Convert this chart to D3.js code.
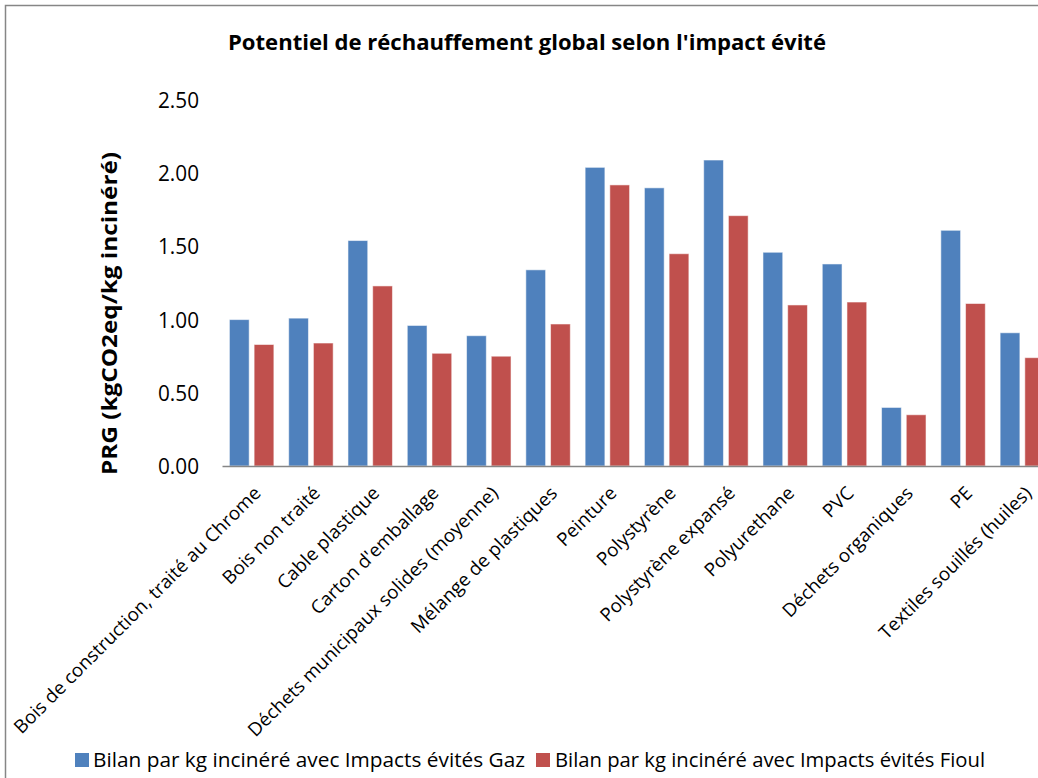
<!DOCTYPE html>
<html>
<head>
<meta charset="utf-8">
<script src="https://cdn.jsdelivr.net/npm/d3@7"></script>
<style>
  html, body { margin: 0; padding: 0; background: #fff; overflow: hidden; }
  svg { display: block; font-family: "Open Sans", sans-serif; }
</style>
</head>
<body>
<svg id="chart" width="1038" height="778"></svg>
<script>
const categories = [
  "Bois de construction, traité au Chrome",
  "Bois non traité",
  "Cable plastique",
  "Carton d'emballage",
  "Déchets municipaux solides (moyenne)",
  "Mélange de plastiques",
  "Peinture",
  "Polystyrène",
  "Polystyrène expansé",
  "Polyurethane",
  "PVC",
  "Déchets organiques",
  "PE",
  "Textiles souillés (huiles)"
];
const seriesNames = [
  "Bilan par kg incinéré avec Impacts évités Gaz",
  "Bilan par kg incinéré avec Impacts évités Fioul"
];
const gazValues   = [1.00, 1.01, 1.54, 0.96, 0.89, 1.34, 2.04, 1.90, 2.09, 1.46, 1.38, 0.40, 1.61, 0.91];
const fioulValues = [0.83, 0.84, 1.23, 0.77, 0.75, 0.97, 1.92, 1.45, 1.71, 1.10, 1.12, 0.35, 1.11, 0.74];
const yTicks = [0, 0.5, 1.0, 1.5, 2.0, 2.5];
const colors = ["#4F81BD", "#C0504D"];
const title = "Potentiel de réchauffement global selon l'impact évité";
const yTitle = "PRG (kgCO2eq/kg incinéré)";

const svg = d3.select("#chart");

// set text to an exact target length
function setLen(sel, target) {
  sel.attr("textLength", target.toFixed(1)).attr("lengthAdjust", "spacingAndGlyphs");
}

// chart border
svg.append("rect")
  .attr("x", 5.5).attr("y", 5.5)
  .attr("width", 1100).attr("height", 900)
  .attr("fill", "#fff")
  .attr("stroke", "#868686").attr("stroke-width", 1.5);

const plotLeft = 222, plotRight = 1052, plotTop = 100, plotBottom = 466;

const x0 = d3.scaleBand().domain(categories).range([plotLeft, plotRight]).padding(0);
const x1 = d3.scaleBand().domain(seriesNames).range([0, x0.bandwidth()])
  .paddingInner(0.2).paddingOuter(0.3);
const y = d3.scaleLinear().domain([0, 2.5]).range([plotBottom, plotTop]);

// title
const t = svg.append("text")
  .attr("x", 228).attr("y", 50)
  .attr("font-weight", "bold")
  .attr("font-size", 21)
  .attr("fill", "#000")
  .text(title);
setLen(t, 598);

// y axis
const yAxis = d3.axisLeft(y).tickValues(yTicks).tickFormat(d3.format(".2f")).tickSize(0).tickPadding(0);
const yg = svg.append("g").attr("transform", `translate(199,0)`).call(yAxis);
yg.select(".domain").remove();
yg.selectAll("text")
  .attr("font-size", 21)
  .attr("font-family", "Open Sans, sans-serif")
  .attr("fill", "#000")
  .attr("dy", "0.36em")
  .each(function() { setLen(d3.select(this), 41); });

// y title
const yt = svg.append("text")
  .attr("transform", `translate(117,475) rotate(-90)`)
  .attr("font-weight", "bold")
  .attr("font-size", 21)
  .attr("fill", "#000")
  .text(yTitle);
setLen(yt, 323);

// bars
const data = categories.map((c, i) => ({ cat: c, vals: [gazValues[i], fioulValues[i]] }));
const groups = svg.append("g").selectAll("g")
  .data(data).join("g")
  .attr("transform", d => `translate(${x0(d.cat)},0)`);
groups.selectAll("rect")
  .data(d => d.vals.map((v, k) => ({ s: seriesNames[k], v, k })))
  .join("rect")
  .attr("x", d => x1(d.s))
  .attr("y", d => y(d.v))
  .attr("width", x1.bandwidth())
  .attr("height", d => y(0) - y(d.v))
  .attr("fill", d => colors[d.k])
  .attr("stroke", "rgba(255,255,255,0.55)")
  .attr("stroke-width", 1);

// x axis baseline
const xAxis = d3.axisBottom(x0).tickSize(0).tickFormat("");
const xg = svg.append("g").attr("transform", `translate(0,${plotBottom})`).call(xAxis);
xg.select(".domain").attr("stroke", "#868686").attr("stroke-width", 1.5);

// x labels rotated
const labels = svg.append("g").selectAll("text")
  .data(categories).join("text")
  .attr("transform", d => `translate(${x0(d) + x0.bandwidth() / 2 + 5},489) rotate(-45)`)
  .attr("text-anchor", "end")
  .attr("dominant-baseline", "central")
  .attr("font-size", 18.5)
  .attr("fill", "#000")
  .text(d => d);
const firstW = labels.nodes()[0].getComputedTextLength();
const ratio = 340 / firstW;
labels.each(function() {
  const w = this.getComputedTextLength();
  setLen(d3.select(this), w * ratio);
});

// legend
const legendItems = [
  { name: seriesNames[0], color: colors[0], sx: 75, tx: 93, w: 432 },
  { name: seriesNames[1], color: colors[1], sx: 536, tx: 555, w: 430 }
];
const lg = svg.append("g");
legendItems.forEach(it => {
  lg.append("rect").attr("x", it.sx).attr("y", 753).attr("width", 14).attr("height", 14).attr("fill", it.color);
  const tt = lg.append("text").attr("x", it.tx).attr("y", 767)
    .attr("font-size", 20).attr("fill", "#000").text(it.name);
  setLen(tt, it.w);
});
</script>
</body>
</html>
